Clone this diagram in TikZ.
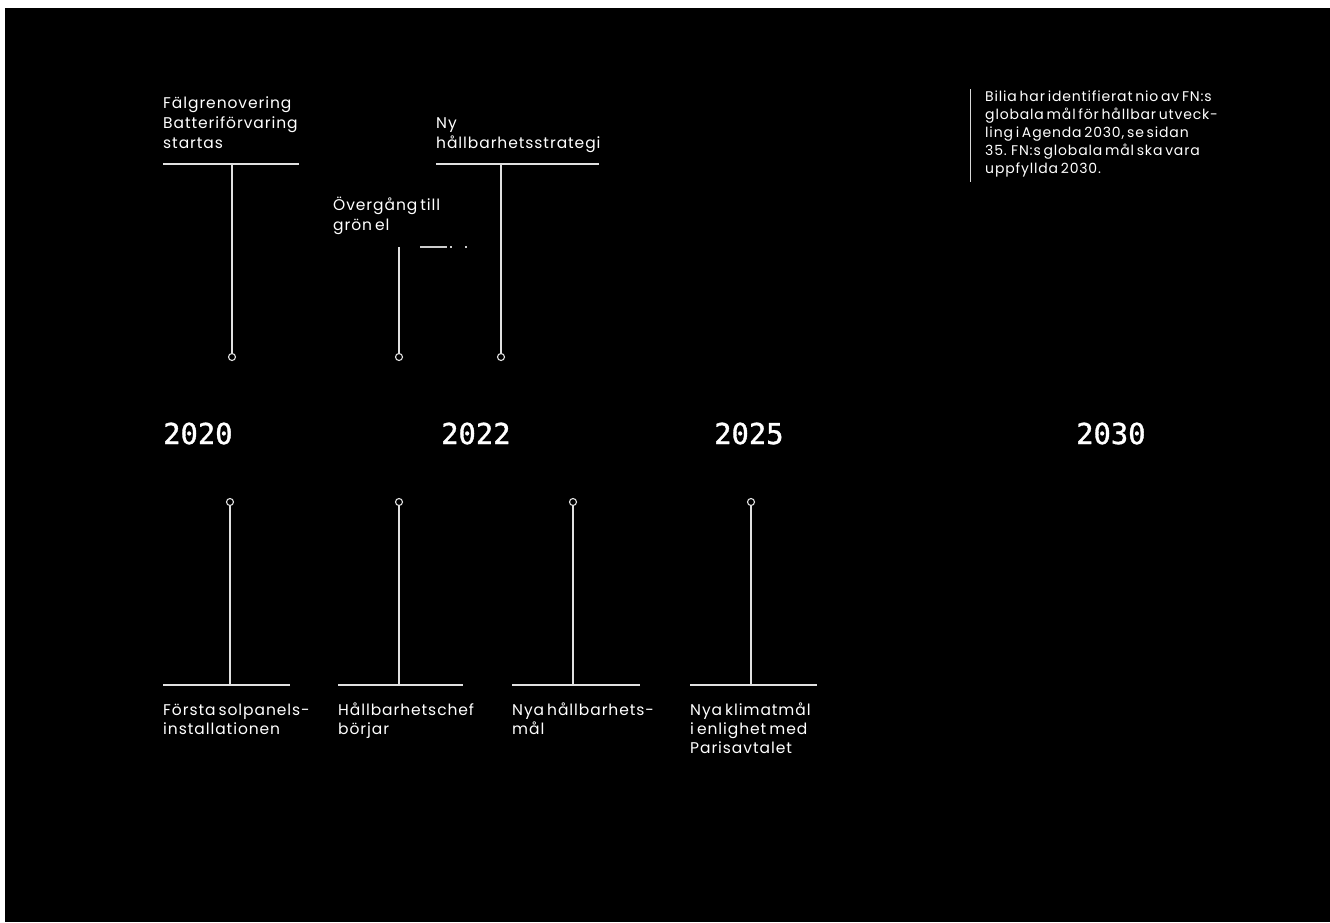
\documentclass[tikz,border=0pt]{standalone}
\usepackage{fontspec}
\setmainfont{Poppins}[LetterSpace=6,WordSpace=0.6]
\newfontfamily\yearfont{DejaVu Sans Mono}[FakeBold=1.2]
\begin{document}
\begin{tikzpicture}[x=1pt,y=-1pt,
  lbl/.style={anchor=base west, inner sep=0pt, text=white, font=\fontsize{15.5}{20}\selectfont},
  note/.style={anchor=base west, inner sep=0pt, text=white, font=\fontsize{14}{18}\selectfont},
  yr/.style={anchor=base west, inner sep=0pt, text=white, font=\yearfont\fontsize{28.8}{30}\selectfont},
  stem/.style={draw=white!88!black, line width=1.3pt},
  frag/.style={draw=white!80!black, line width=1.3pt},
  pin/.style={circle, draw=white!88!black, fill=black, line width=1.1pt, minimum size=7pt, inner sep=0pt}
]
\useasboundingbox (0,0) rectangle (1330,922);
\fill[white] (0,0) rectangle (1330,922);
\fill[black] (5,8) rectangle (1330,922);

% ---------- top events ----------
\node[lbl] (t1a) at (163,108) {Fälgrenovering};
\node[lbl] (t1b) at (163,128) {Batteriförvaring};
\node[lbl] (t1c) at (163,148) {startas};
\coordinate (t1l) at (163,164);
\coordinate (t1r) at (299,164);
\coordinate (t1s) at (232,164);
\node[pin] (p1) at (232,357) {};
\draw[stem] (t1l) -- (t1r);
\draw[stem] (t1s) -- (p1.north);

\node[lbl] (t2a) at (333,210) {Övergång till};
\node[lbl] (t2b) at (333,230) {grön el};
\coordinate (t2s) at (399,247);
\coordinate (f1a) at (420,247);
\coordinate (f1b) at (447,247);
\coordinate (f2a) at (450,247);
\coordinate (f2b) at (452,247);
\coordinate (f3a) at (465,247);
\coordinate (f3b) at (467,247);
\node[pin] (p2) at (399,357) {};
\draw[stem] (t2s) -- (p2.north);
\draw[frag] (f1a) -- (f1b);
\draw[frag] (f2a) -- (f2b);
\draw[frag] (f3a) -- (f3b);

\node[lbl] (t3a) at (436,128) {Ny};
\node[lbl] (t3b) at (436,148) {hållbarhetsstrategi};
\coordinate (t3l) at (436,164);
\coordinate (t3r) at (599,164);
\coordinate (t3s) at (501,164);
\node[pin] (p3) at (501,357) {};
\draw[stem] (t3l) -- (t3r);
\draw[stem] (t3s) -- (p3.north);

% ---------- years ----------
\node[yr] (y2020) at (163,444) {2020};
\node[yr] (y2022) at (441,444) {2022};
\node[yr] (y2025) at (714,444) {2025};
\node[yr] (y2030) at (1076,444) {2030};

% ---------- bottom events ----------
\node[pin] (q1) at (230,502) {};
\coordinate (b1s) at (230,685);
\coordinate (b1l) at (163,685);
\coordinate (b1r) at (290,685);
\draw[stem] (q1.south) -- (b1s);
\draw[stem] (b1l) -- (b1r);
\node[lbl] (b1a) at (163,715) {Första solpanels-};
\node[lbl] (b1b) at (163,734) {installationen};

\node[pin] (q2) at (399,502) {};
\coordinate (b2s) at (399,685);
\coordinate (b2l) at (338,685);
\coordinate (b2r) at (463,685);
\draw[stem] (q2.south) -- (b2s);
\draw[stem] (b2l) -- (b2r);
\node[lbl] (b2a) at (338,715) {Hållbarhetschef};
\node[lbl] (b2b) at (338,734) {börjar};

\node[pin] (q3) at (573,502) {};
\coordinate (b3s) at (573,685);
\coordinate (b3l) at (512,685);
\coordinate (b3r) at (640,685);
\draw[stem] (q3.south) -- (b3s);
\draw[stem] (b3l) -- (b3r);
\node[lbl] (b3a) at (512,715) {Nya hållbarhets-};
\node[lbl] (b3b) at (512,734) {mål};

\node[pin] (q4) at (751,502) {};
\coordinate (b4s) at (751,685);
\coordinate (b4l) at (690,685);
\coordinate (b4r) at (817,685);
\draw[stem] (q4.south) -- (b4s);
\draw[stem] (b4l) -- (b4r);
\node[lbl] (b4a) at (690,715) {Nya klimatmål};
\node[lbl] (b4b) at (690,734) {i enlighet med};
\node[lbl] (b4c) at (690,753) {Parisavtalet};

% ---------- note ----------
\coordinate (nt) at (970,89);
\coordinate (nb) at (970,182);
\draw[draw=white!85!black, line width=1pt] (nt) -- (nb);
\node[note] (n1) at (985,101) {Bilia har identifierat nio av FN:s};
\node[note] (n2) at (985,119) {globala mål för hållbar utveck-};
\node[note] (n3) at (985,137) {ling i Agenda 2030, se sidan};
\node[note] (n4) at (985,155) {35. FN:s globala mål ska vara};
\node[note] (n5) at (985,173) {uppfyllda 2030.};
\end{tikzpicture}
\end{document}
